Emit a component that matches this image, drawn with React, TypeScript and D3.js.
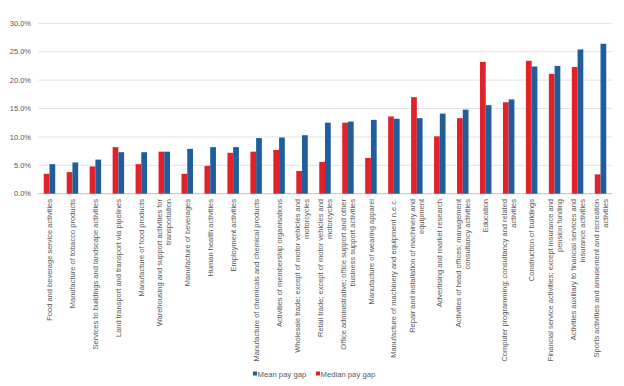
import React, { useEffect, useRef } from 'react';
import * as d3 from 'd3';

// Industry labels, line-broken as in the source chart
const categories: string[][] = [
  ['Food and beverage service activities'],
  ['Manufacture of tobacco products'],
  ['Services to buildings and landscape activities'],
  ['Land transport and transport via pipelines'],
  ['Manufacture of food products'],
  ['Warehousing and support activities for', 'transportation'],
  ['Manufacture of beverages'],
  ['Human health activities'],
  ['Employment activities'],
  ['Manufacture of chemicals and chemical products'],
  ['Activities of membership organisations'],
  ['Wholesale trade; except of motor vehicles and', 'motorcycles'],
  ['Retail trade; except of motor vehicles and', 'motorcycles'],
  ['Office administrative; office support and other', 'business support activities'],
  ['Manufacture of wearing apparel'],
  ['Manufacture of machinery and equipment n.e.c.'],
  ['Repair and installation of machinery and', 'equipment'],
  ['Advertising and market research'],
  ['Activities of head offices; management', 'consultancy activities'],
  ['Education'],
  ['Computer programming; consultancy and related', 'activities'],
  ['Construction of buildings'],
  ['Financial service activities; except insurance and', 'pension funding'],
  ['Activities auxiliary to financial services and', 'insurance activities'],
  ['Sports activities and amusement and recreation', 'activities'],
];

// Median pay gap (%)
const medianGap = [3.5, 3.8, 4.8, 8.2, 5.2, 7.4, 3.5, 4.9, 7.2, 7.4, 7.7, 4.0, 5.6, 12.5, 6.3, 13.6, 17.0, 10.1, 13.3, 23.2, 16.1, 23.4, 21.1, 22.3, 3.4];
// Mean pay gap (%)
const meanGap = [5.2, 5.5, 6.0, 7.3, 7.3, 7.4, 7.9, 8.2, 8.2, 9.8, 9.9, 10.3, 12.5, 12.7, 13.0, 13.2, 13.3, 14.1, 14.8, 15.6, 16.6, 22.4, 22.5, 25.4, 26.4];

const yTicks = [0, 5, 10, 15, 20, 25, 30];

const seriesNames = ['Median pay gap', 'Mean pay gap'];
const legendOrder = ['Mean pay gap', 'Median pay gap'];

const W = 624;
const H = 386;
const RED = '#e2222b';
const BLUE = '#1f5d9b';
const TEXT = '#595959';
const FONT = '"Liberation Sans", Arial, sans-serif';

const App: React.FC = () => {
  const svgRef = useRef<SVGSVGElement>(null);

  useEffect(() => {
    if (!svgRef.current) return;
    const svg = d3.select(svgRef.current);
    svg.selectAll('*').remove();

    const left = 38, right = 612, top = 23.3, bottom = 193.7;

    const x = d3.scaleBand<number>()
      .domain(d3.range(categories.length))
      .range([left, right])
      .paddingInner(0.5)
      .paddingOuter(0.25);

    const xInner = d3.scaleBand<string>()
      .domain(seriesNames)
      .range([0, x.bandwidth()]);

    const y = d3.scaleLinear().domain([0, 30]).range([bottom, top]);

    // gridlines
    svg.append('g')
      .selectAll('line')
      .data(yTicks)
      .enter()
      .append('line')
      .attr('x1', left)
      .attr('x2', right)
      .attr('y1', d => y(d))
      .attr('y2', d => y(d))
      .attr('stroke', d => d === 0 ? '#bfbfbf' : '#e3e3e3')
      .attr('stroke-width', 1);

    // y tick labels
    svg.append('g')
      .selectAll('text')
      .data(yTicks)
      .enter()
      .append('text')
      .attr('x', 31)
      .attr('y', d => y(d))
      .attr('dy', '0.35em')
      .attr('text-anchor', 'end')
      .style('font-family', FONT)
      .style('font-size', '7.5px')
      .style('fill', TEXT)
      .text(d => d3.format('.1f')(d) + '%');

    // bars
    const groups = svg.append('g')
      .selectAll('g')
      .data(categories.map((_, i) => i))
      .enter()
      .append('g')
      .attr('transform', i => `translate(${x(i)},0)`);

    groups.append('rect')
      .attr('x', xInner('Median pay gap')!)
      .attr('width', xInner.bandwidth())
      .attr('y', i => y(medianGap[i]))
      .attr('height', i => y(0) - y(medianGap[i]))
      .attr('fill', RED);

    groups.append('rect')
      .attr('x', xInner('Mean pay gap')!)
      .attr('width', xInner.bandwidth())
      .attr('y', i => y(meanGap[i]))
      .attr('height', i => y(0) - y(meanGap[i]))
      .attr('fill', BLUE);

    // category labels, rotated
    const lineGap = 9;
    categories.forEach((lines, i) => {
      const cx = x(i)! + x.bandwidth() / 2;
      const n = lines.length;
      lines.forEach((line, k) => {
        const lx = cx + (k - (n - 1) / 2) * lineGap;
        svg.append('text')
          .attr('transform', `translate(${lx + 2.6},199) rotate(-90)`)
          .attr('text-anchor', 'end')
          .style('font-family', FONT)
          .style('font-size', '7.5px')
          .style('fill', TEXT)
          .text(line);
      });
    });

    // legend
    const legend = svg.append('g').attr('transform', 'translate(253,374)');
    const legendX = [0, 63];
    legendOrder.forEach((name, k) => {
      const g = legend.append('g').attr('transform', `translate(${legendX[k]},0)`);
      g.append('rect')
        .attr('x', 0)
        .attr('y', -2.5)
        .attr('width', 4)
        .attr('height', 4)
        .attr('fill', name === 'Mean pay gap' ? BLUE : RED);
      g.append('text')
        .attr('x', 4.5)
        .attr('y', 0)
        .attr('dy', '0.35em')
        .style('font-family', FONT)
        .style('font-size', '7.7px')
        .style('fill', TEXT)
        .text(name);
    });
  }, []);

  return (
    <svg
      ref={svgRef}
      width={W}
      height={H}
      style={{ position: 'absolute', left: 0, top: 0, background: '#fff' }}
    />
  );
};

export default App;
